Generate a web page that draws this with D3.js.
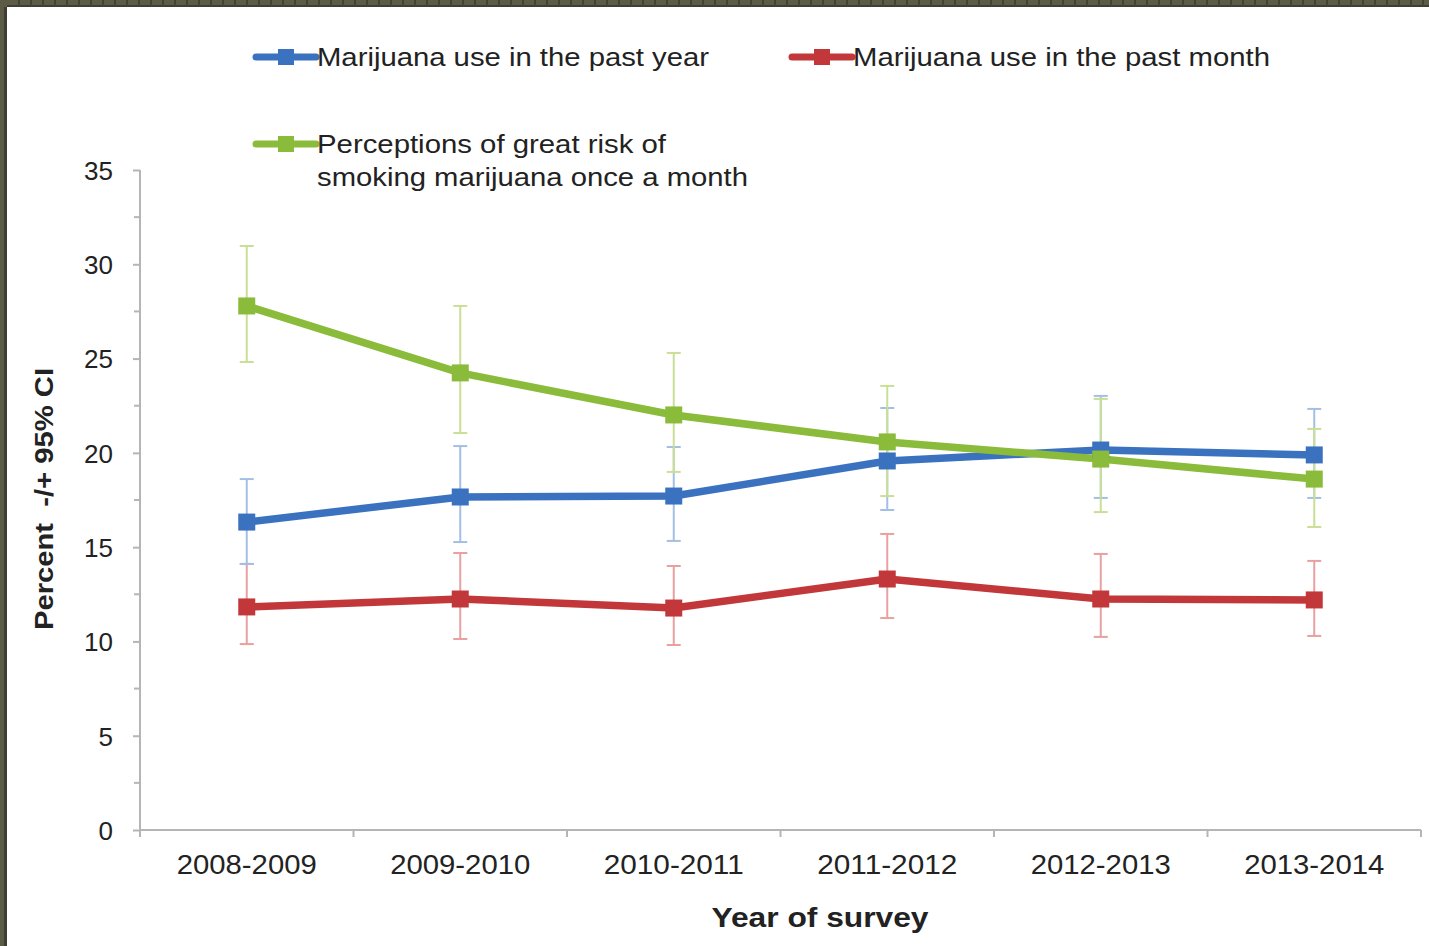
<!DOCTYPE html>
<html>
<head>
<meta charset="utf-8">
<script src="https://cdn.jsdelivr.net/npm/d3@7"></script>
<style>
  html, body { margin: 0; padding: 0; background: #fff; }
  svg { display: block; }
  text { font-family: "Liberation Sans", Arial, sans-serif; fill: #222; }
</style>
</head>
<body>
<svg id="chart" width="1429" height="946"></svg>
<script>
const categories = ["2008-2009", "2009-2010", "2010-2011", "2011-2012", "2012-2013", "2013-2014"];

const pastYear      = [16.33, 17.66, 17.71, 19.57, 20.15, 19.89];
const pastYearHigh  = [18.61, 20.36, 20.31, 22.38, 23.02, 22.33];
const pastYearLow   = [14.11, 15.27, 15.33, 16.97, 17.61, 17.61];

const pastMonth     = [11.83, 12.25, 11.77, 13.31, 12.25, 12.20];
const pastMonthHigh = [14.11, 14.69, 14.00, 15.70, 14.64, 14.27];
const pastMonthLow  = [9.86, 10.13, 9.81, 11.24, 10.24, 10.29];

const greatRisk     = [27.79, 24.24, 22.01, 20.58, 19.67, 18.61];
const greatRiskHigh = [30.97, 27.79, 25.30, 23.55, 22.86, 21.27];
const greatRiskLow  = [24.82, 21.05, 18.99, 17.71, 16.86, 16.07];

const yTicks = [0, 5, 10, 15, 20, 25, 30, 35];
const yMinorTicks = [2.5, 7.5, 12.5, 17.5, 22.5, 27.5, 32.5];

const seriesNames = [
  "Marijuana use in the past year",
  "Marijuana use in the past month",
  "Perceptions of great risk of|smoking marijuana once a month"
];

const series = [
  { name: seriesNames[1], values: pastMonth, hi: pastMonthHigh, lo: pastMonthLow, color: "#c2383a", err: "#e8a0a0" },
  { name: seriesNames[0], values: pastYear, hi: pastYearHigh, lo: pastYearLow, color: "#3b72c0", err: "#a3bfe3" },
  { name: seriesNames[2], values: greatRisk, hi: greatRiskHigh, lo: greatRiskLow, color: "#8abb3b", err: "#c9df95" }
];

const svg = d3.select("#chart");

// frame border
svg.append("rect").attr("x", 0).attr("y", 0).attr("width", 1429).attr("height", 7).attr("fill", "#5c5b46");
svg.append("rect").attr("x", 0).attr("y", 0).attr("width", 7).attr("height", 946).attr("fill", "#5c5b46");
svg.append("rect").attr("x", 4).attr("y", 7).attr("width", 3).attr("height", 939).attr("fill", "#3f3e30");
svg.append("rect").attr("x", 7).attr("y", 5).attr("width", 1422).attr("height", 2).attr("fill", "#3f3e30");
svg.append("g").selectAll("rect").data(d3.range(18, 1429, 12)).join("rect")
  .attr("x", d => d).attr("y", 0).attr("width", 2).attr("height", 6).attr("fill", "#44432f");

const x = d3.scaleBand().domain(categories).range([140, 1421]).padding(0);
const cx = c => x(c) + x.bandwidth() / 2;
const y = d3.scaleLinear().domain([0, 35]).range([830, 170]);

const axisColor = "#b5b5b5";

// y axis
const yAxis = svg.append("g").attr("transform", "translate(140,0)")
  .call(d3.axisLeft(y).tickValues(yTicks).tickSize(7).tickPadding(20).tickFormat(d3.format("d")));
yAxis.select(".domain").attr("stroke", axisColor).attr("stroke-width", 2).attr("d", "M0," + y(35) + "V" + y(0));
yAxis.selectAll(".tick line").attr("stroke", axisColor).attr("stroke-width", 2);
yAxis.selectAll(".tick text").attr("font-size", 26).attr("fill", "#222").attr("dy", "0.36em")
  .style("font-family", '"Liberation Sans", Arial, sans-serif');
svg.append("g").selectAll("line").data(yMinorTicks).join("line")
  .attr("x1", 134).attr("x2", 140).attr("y1", d => y(d)).attr("y2", d => y(d))
  .attr("stroke", axisColor).attr("stroke-width", 2);

// x axis
svg.append("line").attr("x1", 140).attr("x2", 1421).attr("y1", y(0)).attr("y2", y(0))
  .attr("stroke", axisColor).attr("stroke-width", 2);
const bounds = categories.map(c => x(c)).concat([x(categories[categories.length - 1]) + x.bandwidth()]);
svg.append("g").selectAll("line").data(bounds).join("line")
  .attr("x1", d => d).attr("x2", d => d).attr("y1", y(0)).attr("y2", y(0) + 7)
  .attr("stroke", axisColor).attr("stroke-width", 2);
svg.append("g").selectAll("text").data(categories).join("text")
  .attr("x", d => cx(d)).attr("y", 874).attr("text-anchor", "middle")
  .attr("font-size", 27).attr("textLength", 140).attr("lengthAdjust", "spacingAndGlyphs").text(d => d);

// axis titles
svg.append("text").attr("x", 820).attr("y", 927).attr("text-anchor", "middle")
  .attr("font-size", 27).attr("font-weight", "bold")
  .attr("textLength", 217).attr("lengthAdjust", "spacingAndGlyphs").text("Year of survey");
svg.append("text").attr("transform", "translate(53,499) rotate(-90)").attr("text-anchor", "middle")
  .attr("font-size", 25).attr("font-weight", "bold").style("white-space", "pre")
  .attr("textLength", 262).attr("lengthAdjust", "spacingAndGlyphs")
  .text("Percent  -/+ 95% CI");

// error bars
series.forEach(s => {
  const g = svg.append("g");
  categories.forEach((c, i) => {
    const px = cx(c);
    g.append("line").attr("x1", px).attr("x2", px).attr("y1", y(s.hi[i])).attr("y2", y(s.lo[i]))
      .attr("stroke", s.err).attr("stroke-width", 2);
    [s.hi[i], s.lo[i]].forEach(v => {
      g.append("line").attr("x1", px - 7).attr("x2", px + 7).attr("y1", y(v)).attr("y2", y(v))
        .attr("stroke", s.err).attr("stroke-width", 2);
    });
  });
});

// lines and markers
const line = d3.line().x((d, i) => cx(categories[i])).y(d => y(d));
series.forEach(s => {
  svg.append("path").datum(s.values).attr("d", line).attr("fill", "none")
    .attr("stroke", s.color).attr("stroke-width", 7.5).attr("stroke-linejoin", "round");
});
series.forEach(s => {
  svg.append("g").selectAll("rect").data(s.values).join("rect")
    .attr("x", (d, i) => cx(categories[i]) - 8.5).attr("y", d => y(d) - 8.5)
    .attr("width", 17).attr("height", 17).attr("fill", s.color);
});

// legend
const legendLengths = { 0: [392], 1: [417], 2: [349, 431] };
const legend = [
  { s: series[1], lx: 256, ly: 57, w: [392] },
  { s: series[0], lx: 792, ly: 57, w: [417] },
  { s: series[2], lx: 256, ly: 144, w: [349, 431] }
];
legend.forEach(l => {
  const g = svg.append("g");
  g.append("line").attr("x1", l.lx).attr("x2", l.lx + 60).attr("y1", l.ly).attr("y2", l.ly)
    .attr("stroke", l.s.color).attr("stroke-width", 7).attr("stroke-linecap", "round");
  g.append("rect").attr("x", l.lx + 22).attr("y", l.ly - 8).attr("width", 16).attr("height", 16).attr("fill", l.s.color);
  l.s.name.split("|").forEach((t, k) => {
    g.append("text").attr("x", l.lx + 61).attr("y", l.ly + 9 + k * 33).attr("font-size", 25)
      .attr("textLength", l.w[k]).attr("lengthAdjust", "spacingAndGlyphs").text(t);
  });
});
</script>
</body>
</html>
